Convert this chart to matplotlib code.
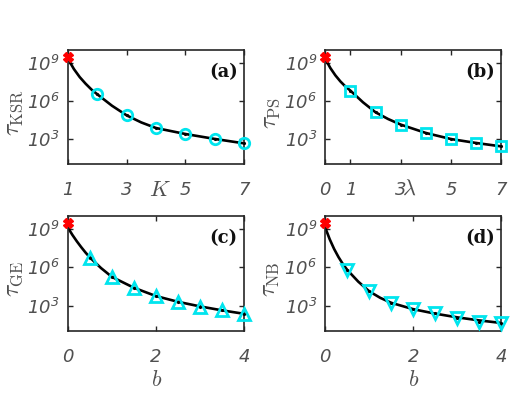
import numpy as np
import matplotlib
matplotlib.use("Agg")
import matplotlib.pyplot as plt

plt.rcParams['mathtext.fontset'] = 'custom'
plt.rcParams['mathtext.it'] = 'DejaVu Sans:italic'
plt.rcParams['mathtext.rm'] = 'DejaVu Sans:italic'

# ---------------- data (log10 values) ----------------
# (a) tau_KSR vs K
K_pts = [2, 3, 4, 5, 6, 7]
a_pts = [6.5, 4.84, 3.85, 3.40, 2.95, 2.63]
K_line = [1, 1.2, 1.4, 1.6, 1.8, 2, 2.5, 3, 3.5, 4, 5, 6, 7]
a_line = [9.3, 8.5, 7.86, 7.34, 6.88, 6.5, 5.6, 4.84, 4.28, 3.84, 3.37, 2.98, 2.63]
a_star = (1, 9.48)

# (b) tau_PS vs lambda
lam_pts = [1, 2, 3, 4, 5, 6, 7]
b_pts = [6.79, 5.08, 4.11, 3.45, 2.95, 2.69, 2.39]
lam_line = [0, 0.2, 0.4, 0.6, 0.8, 1, 1.5, 2, 2.5, 3, 4, 5, 6, 7]
b_line = [9.3, 8.58, 8.0, 7.52, 7.12, 6.79, 5.87, 5.08, 4.55, 4.11, 3.45, 2.97, 2.66, 2.39]
b_star = (0, 9.48)

# (c) tau_GE vs b
bc_pts = [0.5, 1, 1.5, 2, 2.5, 3, 3.5, 4]
c_pts = [6.76, 5.24, 4.39, 3.74, 3.31, 2.92, 2.68, 2.32]
bc_line = [0, 0.1, 0.2, 0.3, 0.4, 0.5, 0.75, 1, 1.5, 2, 2.5, 3, 3.5, 4]
c_line = [9.1, 8.54, 8.04, 7.58, 7.15, 6.76, 5.94, 5.24, 4.39, 3.74, 3.29, 2.93, 2.62, 2.35]
c_star = (0, 9.46)

# (d) tau_NB vs b
bd_pts = [0.5, 1, 1.5, 2, 2.5, 3, 3.5, 4]
d_pts = [5.79, 4.11, 3.21, 2.71, 2.39, 2.02, 1.74, 1.63]
bd_line = [0, 0.1, 0.2, 0.3, 0.4, 0.5, 0.75, 1, 1.25, 1.5, 2, 2.5, 3, 3.5, 4]
d_line = [9.1, 8.2, 7.44, 6.8, 6.25, 5.79, 4.87, 4.11, 3.6, 3.21, 2.71, 2.36, 2.07, 1.83, 1.63]
d_star = (0, 9.44)

panels = [
    dict(xl=K_line, yl=a_line, xp=K_pts, yp=a_pts, star=a_star, m='o', ms=7.5,
         xlim=(1, 7), xt=[1, 3, 5, 7], ylab=r'$\tau_{\mathrm{KSR}}$', tag='(a)',
         xlab='$K$', xlab_pos=(0.523, -0.23)),
    dict(xl=lam_line, yl=b_line, xp=lam_pts, yp=b_pts, star=b_star, m='s', ms=7.5,
         xlim=(0, 7), xt=[0, 1, 3, 5, 7], ylab=r'$\tau_{\mathrm{PS}}$', tag='(b)',
         xlab=r'$\lambda$', xlab_pos=(0.474, -0.22)),
    dict(xl=bc_line, yl=c_line, xp=bc_pts, yp=c_pts, star=c_star, m='^', ms=8.8,
         xlim=(0, 4), xt=[0, 2, 4], ylab=r'$\tau_{\mathrm{GE}}$', tag='(c)',
         xlab='$b$', xlab_pos=(0.504, -0.43)),
    dict(xl=bd_line, yl=d_line, xp=bd_pts, yp=d_pts, star=d_star, m='v', ms=8.8,
         xlim=(0, 4), xt=[0, 2, 4], ylab=r'$\tau_{\mathrm{NB}}$', tag='(d)',
         xlab='$b$', xlab_pos=(0.502, -0.43)),
]

W, H = 525, 394
fig = plt.figure(figsize=(W / 100, H / 100), dpi=100)
rects = [(68, 50, 244, 164), (325.3, 50, 501.3, 164),
         (68, 216.3, 244, 331), (325.3, 216.3, 501.3, 331)]

axcol = '#262626'
txtcol = '#505050'
for p, (l, t, r, b) in zip(panels, rects):
    ax = fig.add_axes([l / W, 1 - b / H, (r - l) / W, (b - t) / H])
    ax.set_yscale('log')
    ax.plot(p['xl'], 10.0 ** np.array(p['yl']), color='black', lw=1.9, zorder=2,
            solid_joinstyle='round')
    ax.plot(p['xp'], 10.0 ** np.array(p['yp']), linestyle='none', marker=p['m'],
            ms=p['ms'], mfc='none', mec='#00e5ee', mew=2.0, zorder=3, clip_on=False)
    ax.plot(p['xp'], 10.0 ** np.array(p['yp']), linestyle='none', marker='.',
            ms=2.5, color='black', zorder=4, clip_on=False)
    ax.plot([p['star'][0]], [10.0 ** p['star'][1]], linestyle='none', marker='X',
            ms=7, color='red', mec='red', zorder=5, clip_on=False)
    ax.set_xlim(*p['xlim'])
    ax.set_ylim(1e1, 1e10)
    ax.set_xticks(p['xt'])
    ax.set_xticklabels([str(v) for v in p['xt']], fontstyle='italic')
    ax.set_yticks([1e3, 1e6, 1e9])
    ax.set_yticklabels([r'$10^{%d}$' % e for e in (3, 6, 9)])
    ax.minorticks_off()
    ax.tick_params(direction='in', length=3.5, width=1.0, color=axcol,
                   top=True, right=True, labelsize=13, labelcolor=txtcol)
    ax.tick_params(axis='x', pad=12)
    ax.tick_params(axis='y', pad=6)
    for s in ax.spines.values():
        s.set_color(axcol)
        s.set_linewidth(1.2)
    ax.set_ylabel(p['ylab'], fontsize=17, color=txtcol, math_fontfamily='cm')
    ax.yaxis.set_label_coords(-0.245, 0.45)
    ax.text(p['xlab_pos'][0], p['xlab_pos'][1], p['xlab'], transform=ax.transAxes,
            ha='center', va='center', fontsize=16, color=txtcol, math_fontfamily='cm')
    ax.text(0.965, 0.81, p['tag'], transform=ax.transAxes, ha='right', va='center',
            fontsize=13, fontweight='bold', family='DejaVu Serif', color='#111111')

fig.savefig('out.png', dpi=100)
